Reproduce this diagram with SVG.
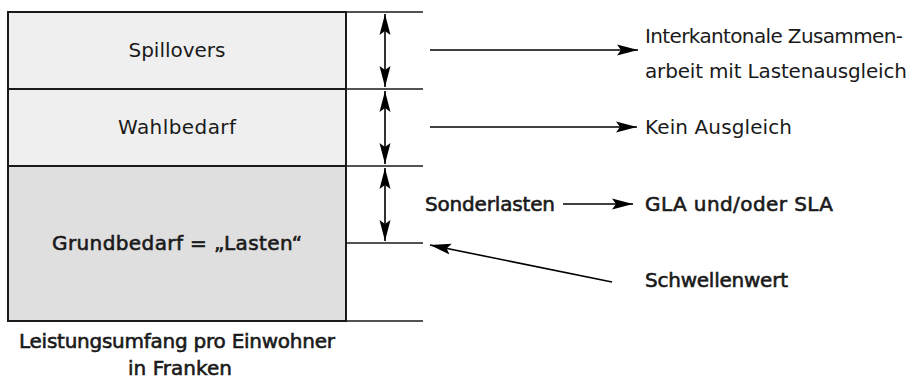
<svg xmlns="http://www.w3.org/2000/svg" width="912" height="381" viewBox="0 0 912 381">
<defs>
<marker id="ah" markerUnits="userSpaceOnUse" markerWidth="23" markerHeight="12" refX="21" refY="5.5" orient="auto-start-reverse" viewBox="0 0 23 11">
<path d="M0,0 L21,5.5 L0,11 L4,5.5 Z" fill="#000"/>
</marker>
</defs>
<style>
text{font-family:"DejaVu Sans","Liberation Sans",sans-serif;font-size:20px;fill:#1a1a1a}
.b{stroke:#1a1a1a;stroke-width:0.6}
.c{text-anchor:middle}
.row{stroke:#1a1a1a;stroke-width:2}
.tick{stroke:#1a1a1a;stroke-width:1.6}
.con{stroke:#000;stroke-width:1.6;fill:none}
</style>
<g id="spillovers">
<rect class="row" x="8" y="12" width="338" height="77" fill="#efefef"/>
<text class="c" x="177" y="57" textLength="97">Spillovers</text>
</g>
<g id="wahlbedarf">
<rect class="row" x="8" y="89" width="338" height="77" fill="#efefef"/>
<text class="c" x="177" y="134" textLength="118">Wahlbedarf</text>
</g>
<g id="grundbedarf">
<rect class="row" x="8" y="166" width="338" height="155" fill="#dfdfdf"/>
<text class="c b" x="177" y="250" textLength="250">Grundbedarf = „Lasten“</text>
</g>
<g id="caption">
<text class="c b" x="177" y="348" textLength="316">Leistungsumfang pro Einwohner</text>
<text class="c b" x="180" y="375" textLength="104">in Franken</text>
</g>
<g id="ticks">
<line class="tick" x1="347" y1="12" x2="423" y2="12"/>
<line class="tick" x1="347" y1="89" x2="423" y2="89"/>
<line class="tick" x1="347" y1="166" x2="423" y2="166"/>
<line class="tick" x1="347" y1="243" x2="423" y2="243"/>
<line class="tick" x1="347" y1="321" x2="423" y2="321"/>
</g>
<g id="interkantonal">
<text x="645" y="43" textLength="258">Interkantonale Zusammen-</text>
<text x="645" y="78" textLength="262">arbeit mit Lastenausgleich</text>
</g>
<g id="kein">
<text x="645" y="134" textLength="147">Kein Ausgleich</text>
</g>
<g id="sonderlasten">
<text class="b" x="425" y="211" textLength="130">Sonderlasten</text>
</g>
<g id="gla">
<text class="b" x="645" y="211" textLength="188">GLA und/oder SLA</text>
</g>
<g id="schwellenwert">
<text class="b" x="645" y="287" textLength="143">Schwellenwert</text>
</g>
<g id="connectors">
<line class="con" x1="385" y1="14" x2="385" y2="87" marker-start="url(#ah)" marker-end="url(#ah)"/>
<line class="con" x1="385" y1="91" x2="385" y2="164" marker-start="url(#ah)" marker-end="url(#ah)"/>
<line class="con" x1="385" y1="168" x2="385" y2="241" marker-start="url(#ah)" marker-end="url(#ah)"/>
<line class="con" x1="430" y1="50" x2="638" y2="50" marker-end="url(#ah)"/>
<line class="con" x1="430" y1="127" x2="637" y2="127" marker-end="url(#ah)"/>
<line class="con" x1="563" y1="204" x2="633" y2="204" marker-end="url(#ah)"/>
<line class="con" x1="612" y1="282" x2="430" y2="245" marker-end="url(#ah)"/>
</g>
</svg>
